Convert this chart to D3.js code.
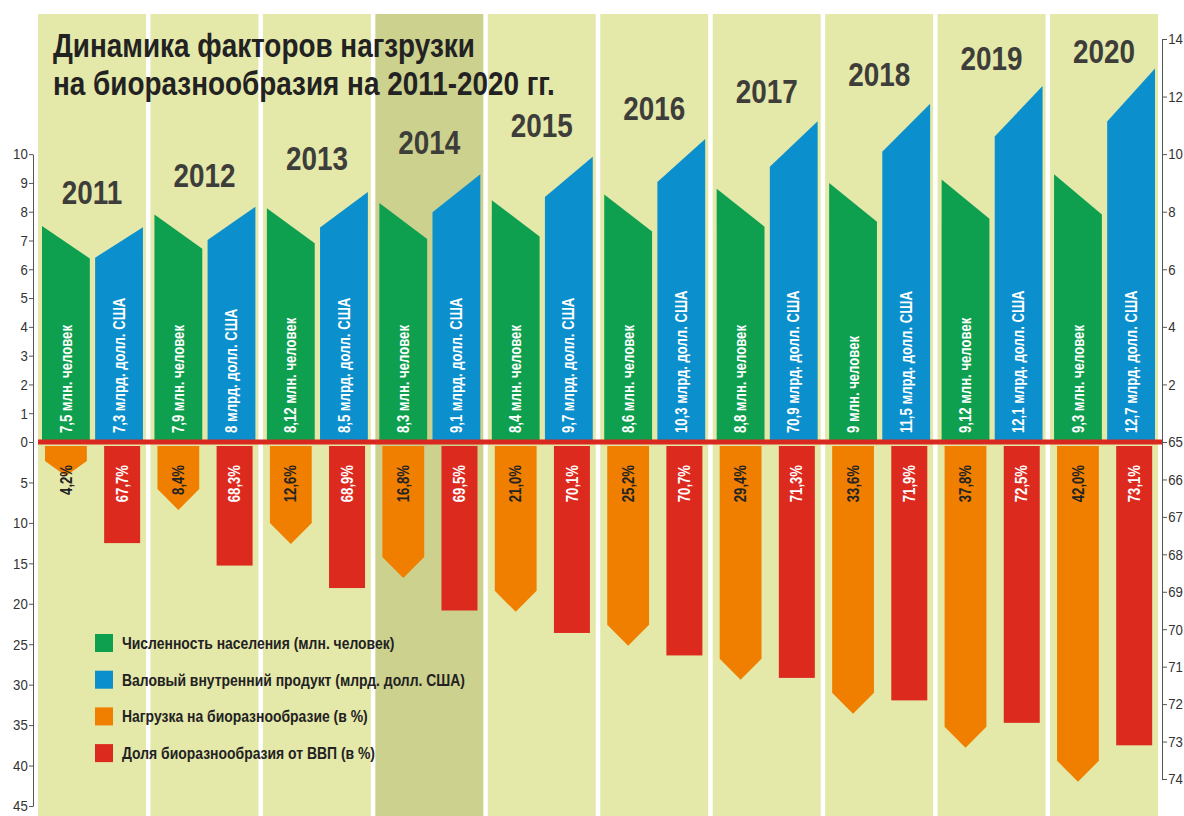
<!DOCTYPE html>
<html>
<head>
<meta charset="utf-8">
<script src="https://cdn.jsdelivr.net/npm/d3@7"></script>
<style>
body { margin: 0; background: #fff; }
svg text { font-family: "Liberation Sans", Arial, sans-serif; }
</style>
</head>
<body>
<svg id="chart" width="1184" height="816"></svg>
<script>

var years = [2011, 2012, 2013, 2014, 2015, 2016, 2017, 2018, 2019, 2020];
var population = [7.5, 7.9, 8.12, 8.3, 8.4, 8.6, 8.8, 9, 9.12, 9.3];      // млн. человек
var gdp = [7.3, 8, 8.5, 9.1, 9.7, 10.3, 10.9, 11.5, 12.1, 12.7];          // млрд. долл. США
var gdpText = ['7,3', '8', '8,5', '9,1', '9,7', '10,3', '70,9', '11,5', '12,1', '12,7']; // as printed
var load = [4.2, 8.4, 12.6, 16.8, 21.0, 25.2, 29.4, 33.6, 37.8, 42.0];   // %
var share = [67.7, 68.3, 68.9, 69.5, 70.1, 70.7, 71.3, 71.9, 72.5, 73.1]; // %

var leftTopTicks = [0, 1, 2, 3, 4, 5, 6, 7, 8, 9, 10];
var leftBottomTicks = [5, 10, 15, 20, 25, 30, 35, 40, 45];
var rightTopTicks = [2, 4, 6, 8, 10, 12, 14];
var rightBottomTicks = [65, 66, 67, 68, 69, 70, 71, 72, 73, 74];

var titleLines = ['Динамика факторов нагзрузки', 'на биоразнообразия на 2011-2020 гг.'];
var legendLabels = ['Численность населения (млн. человек)',
                    'Валовый внутренний продукт (млрд. долл. США)',
                    'Нагрузка на биоразнообразие (в %)',
                    'Доля биоразнообразия от ВВП (в %)'];
var highlightYear = 2014;

var colors = { pop: '#0e9f4f', gdp: '#0b8fcd', load: '#f07f00', share: '#dd2a1f' };
var legendColors = [colors.pop, colors.gdp, colors.load, colors.share];

var svg = d3.select('#chart');
var base = 442;
var narrow = 0.82;   // no narrow font installed, squeeze Liberation Sans instead

function comma(v){ return String(v).replace('.', ','); }
function pct(v){ return d3.format('.1f')(v).replace('.', ',') + '%'; }

// scales
var x = d3.scaleBand().domain(years).range([38, 1158]).paddingInner(0.04);
var sub = d3.scaleBand().domain(['pop', 'gdp']).range([4, x.bandwidth() - 3]).paddingInner(0.1);
var yUp = d3.scaleLinear().domain([0, 14]).range([base, 39]);
var yLoad = d3.scaleLinear().domain([0, 45]).range([base, 806]);
var yShare = d3.scaleLinear().domain([65, 74]).range([base, 779]);

// background columns
svg.append('g').selectAll('rect')
  .data(years)
  .join('rect')
    .attr('x', d => x(d))
    .attr('y', 14)
    .attr('width', x.bandwidth())
    .attr('height', 816 - 14)
    .attr('fill', d => d == highlightYear ? '#cdd18e' : '#e4e8a9');

// title
svg.append('g').selectAll('text')
  .data(titleLines)
  .join('text')
    .attr('transform', (d, i) => 'translate(53,' + (57 + i * 38) + ') scale(' + narrow + ',1)')
    .attr('font-size', 34)
    .attr('font-weight', 'bold')
    .attr('fill', '#222')
    .text(d => d);

var rows = years.map(function(yr, i){
  return { year: yr, i: i, pop: population[i], gdp: gdp[i], gdpText: gdpText[i], load: load[i], share: share[i] };
});

var cols = svg.append('g').selectAll('g')
  .data(rows)
  .join('g')
    .attr('transform', d => 'translate(' + x(d.year) + ',0)');

// upper bars with slanted tops
var bw = sub.bandwidth();
cols.append('polygon')
  .attr('fill', colors.pop)
  .attr('points', function(d){
    var x0 = sub('pop');
    return [[x0, base], [x0, yUp(d.pop)], [x0 + bw, yUp(d.pop * 0.85)], [x0 + bw, base]].join(' ');
  });
cols.append('polygon')
  .attr('fill', colors.gdp)
  .attr('points', function(d){
    var x0 = sub('gdp');
    return [[x0, base], [x0, yUp(d.gdp * 0.877)], [x0 + bw, yUp(d.gdp * 1.022)], [x0 + bw, base]].join(' ');
  });

// lower bars
var lowTop = base + 4;
cols.append('polygon')
  .attr('fill', colors.load)
  .attr('points', function(d){
    var x0 = sub('pop') + 3, w = bw - 6;
    var tip = yLoad(d.load);
    var c = Math.min(21, (tip - lowTop) / 2);
    return [[x0, lowTop], [x0 + w, lowTop], [x0 + w, tip - c], [x0 + w / 2, tip], [x0, tip - c]].join(' ');
  });
cols.append('rect')
  .attr('fill', colors.share)
  .attr('x', sub('gdp') + 9)
  .attr('y', lowTop)
  .attr('width', 36)
  .attr('height', d => yShare(d.share) - lowTop);

// bar labels (vertical)
function vlabel(sel, cx, y, anchor, fill, txt){
  sel.append('text')
    .attr('transform', 'translate(' + cx + ',' + y + ') rotate(-90) scale(' + narrow + ',1)')
    .attr('text-anchor', anchor)
    .attr('dy', '0.35em')
    .attr('font-size', 16)
    .attr('font-weight', 'bold')
    .attr('fill', fill)
    .text(txt);
}
vlabel(cols, sub('pop') + bw / 2, 433, 'start', '#fff', d => comma(d.pop) + ' млн. человек');
vlabel(cols, sub('gdp') + bw / 2, 433, 'start', '#fff', d => d.gdpText + ' млрд. долл. США');
vlabel(cols, sub('pop') + bw / 2, 465, 'end', '#222', d => pct(d.load));
vlabel(cols, sub('gdp') + 9 + 18, 465, 'end', '#fff', d => pct(d.share));

// year labels
cols.append('text')
  .attr('transform', d => 'translate(' + (x.bandwidth() / 2) + ',' + Math.max(63, 204 - 16.8 * d.i) + ') scale(' + narrow + ',1)')
  .attr('text-anchor', 'middle')
  .attr('font-size', 34)
  .attr('font-weight', 'bold')
  .attr('fill', '#3d3d3a')
  .text(d => d.year);

// zero line
svg.append('line')
  .attr('x1', 38).attr('x2', 1162)
  .attr('y1', base).attr('y2', base)
  .attr('stroke', '#d8281f')
  .attr('stroke-width', 5);

// axes
function styleAxis(g){
  g.selectAll('path, line').attr('stroke', '#555');
  g.selectAll('text')
    .attr('font-size', 15)
    .attr('fill', '#333')
    .attr('font-family', null)
    .attr('transform', 'scale(0.88,1)');
}
var yLeftTop = d3.scaleLinear().domain([0, 10]).range([base, yUp(10)]);
svg.append('g')
  .attr('transform', 'translate(33,0)')
  .call(d3.axisLeft(yLeftTop).tickValues(leftTopTicks).tickSize(4).tickSizeOuter(0).tickPadding(2))
  .call(styleAxis);
svg.append('g')
  .attr('transform', 'translate(33,0)')
  .call(d3.axisLeft(yLoad).tickValues(leftBottomTicks).tickSize(4).tickSizeOuter(0).tickPadding(2))
  .call(styleAxis);
svg.append('g')
  .attr('transform', 'translate(1162,0)')
  .call(d3.axisRight(yUp).tickValues(rightTopTicks).tickSize(5).tickSizeOuter(0).tickPadding(2))
  .call(styleAxis);
svg.append('g')
  .attr('transform', 'translate(1162,0)')
  .call(d3.axisRight(yShare).tickValues(rightBottomTicks).tickSize(5).tickSizeOuter(0).tickPadding(2))
  .call(styleAxis);

// legend
var legend = svg.append('g').attr('transform', 'translate(95,643)')
  .selectAll('g')
  .data(legendLabels)
  .join('g')
    .attr('transform', (d, i) => 'translate(0,' + i * 36.7 + ')');
legend.append('rect')
  .attr('x', 0).attr('y', -9)
  .attr('width', 18).attr('height', 18)
  .attr('fill', (d, i) => legendColors[i]);
legend.append('text')
  .attr('transform', 'translate(27,0) scale(' + narrow + ',1)')
  .attr('dy', '0.35em')
  .attr('font-size', 17)
  .attr('font-weight', 'bold')
  .attr('fill', '#222')
  .text(d => d);

</script>
</body>
</html>
